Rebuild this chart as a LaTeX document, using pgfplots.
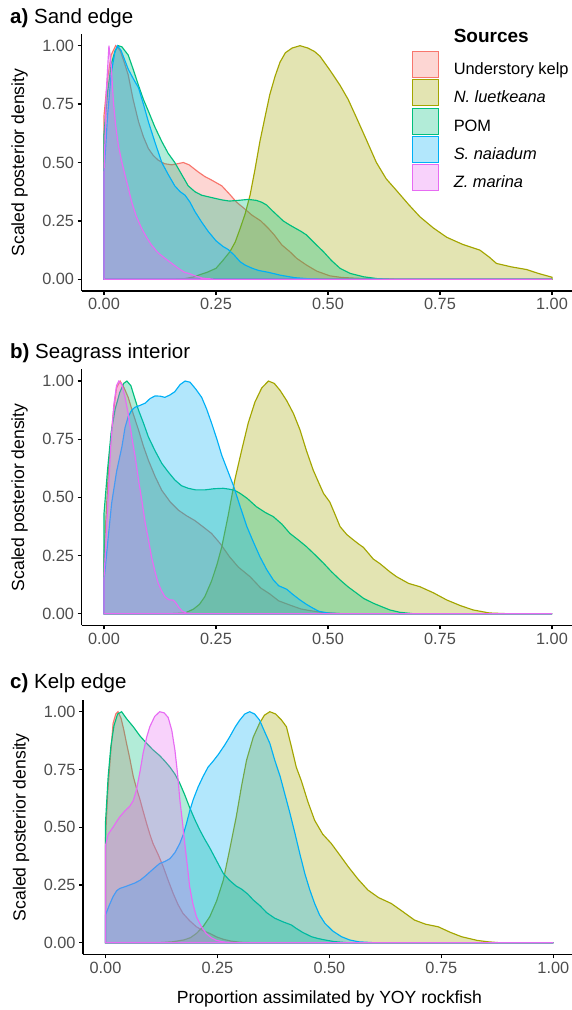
\documentclass[border=0pt]{standalone}
\usepackage{pgfplots}
\pgfplotsset{compat=1.18}
\usepackage{fontspec}
\setmainfont{Liberation Sans}
\definecolor{cUK}{HTML}{F8766D}
\definecolor{cNL}{HTML}{A3A500}
\definecolor{cPOM}{HTML}{00BF7D}
\definecolor{cSN}{HTML}{00B0F6}
\definecolor{cZM}{HTML}{E76BF3}
\definecolor{tickgray}{HTML}{4D4D4D}
\newcommand{\dens}[2]{\addplot[draw=#1, fill=#1, fill opacity=0.3, line width=1.15pt] coordinates {#2} \closedcycle;}
\pgfplotsset{
  panel/.style={
    scale only axis, width=492.8pt,
    xmin=-0.05, xmax=1.05, ymin=-0.05, ymax=1.05,
    axis x line*=bottom, axis y line*=left,
    axis line style={-, line width=1.4pt, black},
    xtick={0,0.25,0.5,0.75,1}, xticklabels={0.00,0.25,0.50,0.75,1.00},
    ytick={0,0.25,0.5,0.75,1}, yticklabels={0.00,0.25,0.50,0.75,1.00},
    tick align=outside, major tick length=4pt,
    tick style={black, line width=1.2pt},
    ticklabel style={font=\fontsize{16.3}{19}\selectfont, text=tickgray},
    ylabel={Scaled posterior density},
    ylabel style={at={(axis description cs:-0.126,0.5)}, anchor=center, rotate=0, inner sep=0pt, font=\fontsize{17.6}{21}\selectfont},
    title style={anchor=base west, inner sep=0pt, font=\fontsize{20.5}{24}\selectfont},
  }
}
\begin{document}
\begin{tikzpicture}
\path[use as bounding box] (0pt,0pt) rectangle (571pt,-1010pt);
% ---------------- panel a
\begin{axis}[panel, height=257pt, at={(81.6pt,-291pt)}, anchor=south west,
  title={\textbf{a)} Sand edge}, title style={at={(axis description cs:-0.1453,1.0157)}},
  legend style={at={(axis description cs:0.6698,1.0556)}, anchor=north west, draw=none, fill=none,
    inner sep=0pt, outer sep=0pt, row sep=1.3pt, font=\fontsize{16.4}{19}\selectfont,
    nodes={inner sep=0pt, text height=23pt, text depth=3pt}},
  legend cell align=left,
  legend image code/.code={\draw[#1, line width=1pt] (0pt,-13pt) rectangle (26pt,13pt); \path (41pt,0pt);},
]
\addlegendimage{empty legend}
\addlegendentry[text depth=7pt, font=\bfseries\fontsize{19}{22}\selectfont]{Sources}
\dens{cUK}{(0,0) (0,0.70) (0.008,0.86) (0.016,0.96) (0.026,1.0) (0.036,0.98) (0.045,0.93) (0.054,0.875) (0.065,0.77) (0.077,0.675) (0.088,0.61) (0.099,0.56) (0.11,0.53) (0.121,0.51) (0.135,0.495) (0.151,0.49) (0.165,0.495) (0.177,0.50) (0.19,0.49) (0.21,0.46) (0.225,0.44) (0.24,0.425) (0.263,0.40) (0.28,0.365) (0.296,0.33) (0.315,0.30) (0.33,0.275) (0.35,0.25) (0.367,0.218) (0.38,0.19) (0.397,0.147) (0.415,0.118) (0.43,0.09) (0.452,0.061) (0.475,0.035) (0.504,0.015) (0.53,0.008) (0.56,0.005) (0.6,0.002) (0.7,0) (1,0)}
\addlegendentry{Understory kelp}
\dens{cNL}{(0,0) (0.15,0) (0.18,0.003) (0.2,0.01) (0.214,0.02) (0.23,0.03) (0.25,0.047) (0.265,0.08) (0.281,0.118) (0.293,0.16) (0.304,0.218) (0.315,0.28) (0.326,0.36) (0.337,0.47) (0.348,0.59) (0.36,0.70) (0.37,0.79) (0.382,0.87) (0.393,0.93) (0.405,0.97) (0.42,0.99) (0.4375,1.0) (0.455,0.99) (0.47,0.975) (0.482,0.955) (0.504,0.896) (0.527,0.83) (0.545,0.77) (0.564,0.69) (0.585,0.60) (0.608,0.50) (0.63,0.43) (0.653,0.38) (0.68,0.32) (0.705,0.268) (0.735,0.22) (0.765,0.18) (0.8,0.15) (0.839,0.125) (0.86,0.095) (0.876,0.068) (0.91,0.053) (0.943,0.042) (0.97,0.025) (1,0.009) (1,0)}
\addlegendentry{\textit{N. luetkeana}}
\dens{cPOM}{(0,0) (0,0.62) (0.008,0.80) (0.016,0.92) (0.025,0.98) (0.032,1.0) (0.04,0.995) (0.054,0.96) (0.065,0.90) (0.077,0.83) (0.088,0.77) (0.099,0.72) (0.114,0.65) (0.129,0.59) (0.143,0.54) (0.158,0.50) (0.173,0.45) (0.188,0.40) (0.203,0.375) (0.218,0.36) (0.24,0.35) (0.263,0.34) (0.28,0.335) (0.3,0.338) (0.322,0.342) (0.34,0.338) (0.352,0.33) (0.363,0.318) (0.375,0.295) (0.389,0.27) (0.40,0.25) (0.415,0.232) (0.426,0.22) (0.44,0.205) (0.452,0.19) (0.47,0.155) (0.49,0.118) (0.508,0.08) (0.527,0.047) (0.55,0.025) (0.579,0.011) (0.61,0.003) (0.65,0) (1,0)}
\addlegendentry{POM}
\dens{cSN}{(0,0) (0,0.45) (0.008,0.70) (0.016,0.88) (0.024,0.97) (0.03,1.0) (0.038,0.98) (0.046,0.94) (0.054,0.90) (0.065,0.86) (0.077,0.82) (0.088,0.75) (0.099,0.675) (0.114,0.585) (0.129,0.50) (0.143,0.45) (0.158,0.40) (0.17,0.375) (0.181,0.36) (0.192,0.33) (0.203,0.29) (0.218,0.245) (0.233,0.204) (0.25,0.165) (0.266,0.14) (0.277,0.128) (0.29,0.105) (0.304,0.075) (0.315,0.061) (0.33,0.048) (0.345,0.038) (0.367,0.03) (0.393,0.018) (0.426,0.007) (0.46,0.002) (0.5,0) (1,0)}
\addlegendentry{\textit{S. naiadum}}
\dens{cZM}{(0,0) (0,0.45) (0.005,0.8) (0.011,1.0) (0.016,0.92) (0.021,0.76) (0.026,0.66) (0.032,0.575) (0.04,0.50) (0.047,0.446) (0.055,0.385) (0.062,0.33) (0.072,0.27) (0.084,0.218) (0.095,0.18) (0.106,0.147) (0.12,0.115) (0.136,0.09) (0.15,0.07) (0.166,0.047) (0.18,0.03) (0.19,0.025) (0.203,0.015) (0.22,0.005) (0.25,0) (1,0)}
\addlegendentry{\textit{Z. marina}}
\end{axis}
% ---------------- panel b
\begin{axis}[panel, height=255.9pt, at={(81.6pt,-625.3pt)}, anchor=south west,
  title={\textbf{b)} Seagrass interior}, title style={at={(axis description cs:-0.1453,1.020)}}]
\dens{cUK}{(0,0) (0,0.25) (0.01,0.62) (0.02,0.85) (0.028,0.97) (0.036,1.0) (0.045,0.97) (0.054,0.93) (0.065,0.86) (0.077,0.79) (0.088,0.72) (0.099,0.66) (0.114,0.59) (0.129,0.53) (0.148,0.48) (0.166,0.445) (0.185,0.42) (0.203,0.40) (0.22,0.375) (0.24,0.345) (0.26,0.30) (0.28,0.245) (0.3,0.2) (0.326,0.159) (0.35,0.11) (0.37,0.085) (0.39,0.055) (0.415,0.037) (0.44,0.02) (0.46,0.013) (0.49,0.005) (0.53,0) (1,0)}
\dens{cNL}{(0,0) (0.15,0) (0.181,0.003) (0.2,0.02) (0.213,0.04) (0.225,0.073) (0.24,0.14) (0.252,0.21) (0.263,0.288) (0.277,0.42) (0.292,0.575) (0.307,0.70) (0.322,0.82) (0.337,0.91) (0.352,0.97) (0.367,1.0) (0.38,0.99) (0.393,0.96) (0.408,0.915) (0.423,0.86) (0.4375,0.79) (0.452,0.70) (0.467,0.617) (0.48,0.56) (0.49,0.517) (0.504,0.48) (0.515,0.43) (0.527,0.374) (0.542,0.34) (0.556,0.318) (0.568,0.30) (0.579,0.285) (0.59,0.26) (0.601,0.235) (0.616,0.215) (0.638,0.18) (0.653,0.159) (0.68,0.13) (0.705,0.116) (0.735,0.09) (0.765,0.059) (0.795,0.035) (0.824,0.016) (0.86,0.003) (0.9,0) (1,0)}
\dens{cPOM}{(0,0) (0,0.43) (0.008,0.62) (0.016,0.78) (0.025,0.88) (0.035,0.95) (0.044,0.99) (0.051,1.0) (0.06,0.98) (0.068,0.93) (0.077,0.875) (0.088,0.82) (0.099,0.76) (0.114,0.70) (0.129,0.646) (0.143,0.61) (0.158,0.575) (0.173,0.55) (0.188,0.539) (0.205,0.532) (0.225,0.532) (0.245,0.537) (0.266,0.539) (0.28,0.535) (0.292,0.53) (0.304,0.517) (0.32,0.495) (0.34,0.46) (0.36,0.435) (0.378,0.417) (0.397,0.385) (0.415,0.345) (0.435,0.315) (0.452,0.288) (0.47,0.255) (0.49,0.217) (0.508,0.18) (0.527,0.145) (0.545,0.115) (0.564,0.088) (0.58,0.065) (0.601,0.045) (0.62,0.03) (0.638,0.016) (0.66,0.006) (0.69,0) (1,0)}
\dens{cSN}{(0,0) (0,0.14) (0.008,0.30) (0.017,0.474) (0.028,0.61) (0.04,0.718) (0.047,0.80) (0.054,0.847) (0.062,0.875) (0.069,0.887) (0.08,0.895) (0.092,0.905) (0.103,0.925) (0.114,0.936) (0.125,0.935) (0.136,0.93) (0.147,0.94) (0.158,0.954) (0.17,0.985) (0.181,1.0) (0.192,0.995) (0.205,0.965) (0.218,0.93) (0.229,0.88) (0.24,0.82) (0.252,0.75) (0.263,0.68) (0.275,0.62) (0.289,0.55) (0.304,0.46) (0.319,0.374) (0.333,0.31) (0.348,0.245) (0.363,0.19) (0.378,0.145) (0.39,0.12) (0.408,0.105) (0.42,0.085) (0.4375,0.059) (0.452,0.04) (0.467,0.023) (0.48,0.01) (0.5,0.003) (0.53,0) (1,0)}
\dens{cZM}{(0,0) (0,0.15) (0.008,0.45) (0.015,0.72) (0.022,0.9) (0.028,0.98) (0.033,1.0) (0.04,0.985) (0.047,0.93) (0.054,0.86) (0.062,0.76) (0.07,0.67) (0.077,0.575) (0.085,0.48) (0.092,0.39) (0.1,0.31) (0.106,0.245) (0.114,0.18) (0.121,0.131) (0.128,0.1) (0.136,0.073) (0.145,0.06) (0.155,0.058) (0.161,0.045) (0.168,0.025) (0.175,0.01) (0.185,0.002) (0.2,0) (1,0)}
\end{axis}
% ---------------- panel c
\begin{axis}[panel, width=492.6pt, height=254.1pt, at={(83.1pt,-954.25pt)}, anchor=south west,
  title={\textbf{c)} Kelp edge}, title style={at={(axis description cs:-0.1483,1.0242)}},
  xlabel={Proportion assimilated by YOY rockfish},
  xlabel style={at={(axis description cs:0.5,-0.192)}, anchor=base, inner sep=0pt, font=\fontsize{17.6}{21}\selectfont}]
\dens{cUK}{(0,0) (0,0.45) (0.005,0.65) (0.01,0.78) (0.017,0.95) (0.023,0.99) (0.028,1.0) (0.035,0.97) (0.041,0.92) (0.047,0.863) (0.054,0.80) (0.062,0.72) (0.069,0.67) (0.077,0.62) (0.084,0.57) (0.092,0.515) (0.099,0.47) (0.106,0.43) (0.118,0.38) (0.129,0.329) (0.14,0.27) (0.151,0.214) (0.162,0.165) (0.173,0.127) (0.188,0.095) (0.203,0.069) (0.218,0.052) (0.233,0.04) (0.248,0.025) (0.263,0.015) (0.28,0.007) (0.3,0.002) (0.33,0) (1,0)}
\dens{cNL}{(0,0) (0.12,0) (0.15,0.004) (0.175,0.012) (0.19,0.022) (0.203,0.04) (0.218,0.07) (0.233,0.113) (0.248,0.18) (0.263,0.27) (0.277,0.40) (0.292,0.545) (0.304,0.68) (0.315,0.79) (0.33,0.89) (0.344,0.95) (0.355,0.985) (0.367,1.0) (0.38,0.99) (0.393,0.964) (0.404,0.935) (0.415,0.85) (0.426,0.76) (0.4375,0.70) (0.452,0.61) (0.467,0.53) (0.485,0.47) (0.504,0.43) (0.523,0.38) (0.542,0.329) (0.564,0.275) (0.586,0.228) (0.61,0.195) (0.638,0.17) (0.66,0.14) (0.69,0.098) (0.715,0.08) (0.743,0.069) (0.77,0.045) (0.795,0.026) (0.83,0.01) (0.854,0.004) (0.88,0) (1,0)}
\dens{cPOM}{(0,0) (0,0.52) (0.006,0.72) (0.012,0.85) (0.019,0.94) (0.027,0.99) (0.036,1.0) (0.047,0.97) (0.062,0.935) (0.077,0.895) (0.092,0.863) (0.106,0.835) (0.121,0.81) (0.133,0.785) (0.144,0.76) (0.155,0.73) (0.166,0.69) (0.177,0.64) (0.188,0.585) (0.199,0.535) (0.21,0.49) (0.221,0.45) (0.233,0.41) (0.248,0.355) (0.263,0.30) (0.277,0.27) (0.292,0.245) (0.304,0.232) (0.318,0.21) (0.33,0.185) (0.345,0.16) (0.36,0.13) (0.378,0.106) (0.397,0.09) (0.415,0.077) (0.426,0.062) (0.44,0.045) (0.46,0.026) (0.475,0.018) (0.49,0.012) (0.51,0.005) (0.54,0) (1,0)}
\dens{cSN}{(0,0) (0,0.12) (0.008,0.16) (0.017,0.2) (0.025,0.225) (0.032,0.235) (0.043,0.242) (0.054,0.25) (0.065,0.258) (0.077,0.27) (0.088,0.287) (0.099,0.306) (0.11,0.325) (0.121,0.343) (0.133,0.352) (0.144,0.364) (0.155,0.39) (0.166,0.43) (0.174,0.47) (0.181,0.517) (0.188,0.57) (0.196,0.62) (0.207,0.675) (0.218,0.72) (0.229,0.76) (0.24,0.785) (0.252,0.815) (0.266,0.855) (0.277,0.89) (0.29,0.935) (0.3,0.964) (0.311,0.99) (0.322,1.0) (0.333,0.99) (0.344,0.964) (0.355,0.915) (0.367,0.863) (0.378,0.79) (0.39,0.72) (0.4,0.647) (0.412,0.56) (0.423,0.474) (0.434,0.385) (0.445,0.30) (0.456,0.23) (0.467,0.17) (0.478,0.12) (0.49,0.084) (0.508,0.05) (0.527,0.026) (0.545,0.012) (0.565,0.004) (0.6,0) (1,0)}
\dens{cZM}{(0,0) (0,0.42) (0.006,0.47) (0.017,0.5) (0.025,0.525) (0.032,0.545) (0.043,0.57) (0.054,0.59) (0.062,0.615) (0.069,0.66) (0.077,0.74) (0.084,0.82) (0.092,0.89) (0.099,0.935) (0.11,0.98) (0.121,1.0) (0.131,0.995) (0.14,0.975) (0.148,0.92) (0.155,0.834) (0.161,0.73) (0.166,0.62) (0.172,0.52) (0.177,0.43) (0.183,0.33) (0.188,0.242) (0.195,0.17) (0.203,0.113) (0.214,0.07) (0.225,0.04) (0.236,0.022) (0.248,0.01) (0.265,0.003) (0.29,0) (1,0)}
\end{axis}
\end{tikzpicture}
\end{document}
